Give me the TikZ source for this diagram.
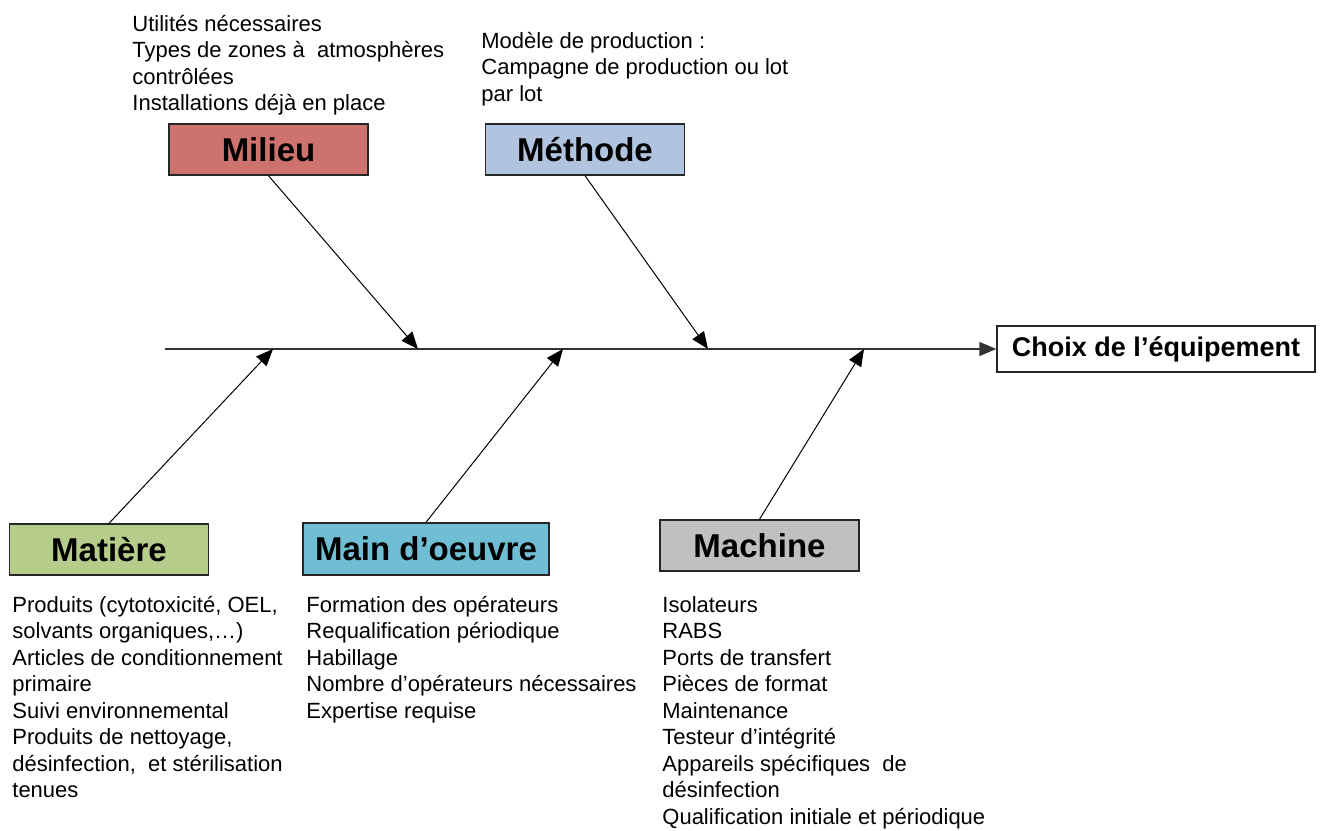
\documentclass[tikz,border=0pt]{standalone}
\usepackage{fontspec}
\setmainfont{Liberation Sans}
\usepackage{xcolor}
\usetikzlibrary{arrows.meta}

\definecolor{milieucol}{RGB}{205,114,108}
\definecolor{methodecol}{RGB}{176,196,224}
\definecolor{matierecol}{RGB}{182,204,138}
\definecolor{maincol}{RGB}{112,190,212}
\definecolor{machinecol}{RGB}{192,192,192}

\begin{document}
\begin{tikzpicture}[x=0.5pt, y=-0.5pt,
		catbox/.style={draw=black!85, line width=0.7pt, inner sep=0pt,
			minimum width=99.5pt, minimum height=25.5pt,
			font=\fontsize{16.5}{18}\selectfont\bfseries},
		itemlist/.style={anchor=base west, inner sep=0pt, align=left,
			font=\fontsize{11}{13.25}\selectfont},
		branch/.style={line width=0.5pt, -{Triangle[length=8.5pt,width=7pt]}}]

			\useasboundingbox (0,0) rectangle (1321,830);

			% effet
			\node[draw=black!85, line width=0.7pt, inner sep=0pt,
				minimum width=159pt, minimum height=23pt,
				font=\fontsize{13.5}{15}\selectfont\bfseries]
				(choix) at (1156,349) {Choix de l’équipement};

			% arete centrale
			\coordinate (queue) at (165,349);
			\draw[line width=0.8pt, black!80, -{Triangle[length=8.5pt,width=7pt]}]
				(queue) -- (choix.west);

			\coordinate (pmilieu) at (418,349);
			\coordinate (pmethode) at (708,349);
			\coordinate (pmatiere) at (273,349);
			\coordinate (pmain) at (563,349);
			\coordinate (pmachine) at (864,349);

			% causes du haut
			\node[catbox, fill=milieucol] (milieu) at (268.5,149.5) {Milieu};
			\node[catbox, fill=methodecol] (methode) at (585,149.5) {Méthode};

			% causes du bas
			\node[catbox, fill=matierecol] (matiere) at (109,549.5) {Matière};
			\node[catbox, fill=maincol, minimum width=123pt, minimum height=26pt]
				(main) at (426,549) {Main d’oeuvre};
			\node[catbox, fill=machinecol] (machine) at (759.5,545.5) {Machine};

			\draw[branch] (milieu.south) -- (pmilieu);
			\draw[branch] (methode.south) -- (pmethode);
			\draw[branch] (matiere.north) -- (pmatiere);
			\draw[branch] (main.north) -- (pmain);
			\draw[branch] (machine.north) -- (pmachine);

			% listes (ancrees sur la derniere ligne)
			\node[itemlist] (lmilieu) at (132,110.5)
				{Utilités nécessaires\\Types de zones à~ atmosphères\\contrôlées\\Installations déjà en place};
			\node[itemlist] (lmethode) at (481,101)
				{Modèle de production :\\Campagne de production ou lot\\par lot};
			\node[itemlist] (lmatiere) at (12,797.5)
				{Produits (cytotoxicité, OEL,\\solvants organiques,…)\\Articles de conditionnement\\primaire\\Suivi environnemental\\Produits de nettoyage,\\désinfection,~ et stérilisation\\tenues};
			\node[itemlist] (lmain) at (306,718)
				{Formation des opérateurs\\Requalification périodique\\Habillage\\Nombre d’opérateurs nécessaires\\Expertise requise};
			\node[itemlist] (lmachine) at (662,824)
				{Isolateurs\\RABS\\Ports de transfert\\Pièces de format\\Maintenance\\Testeur d’intégrité\\Appareils spécifiques~ de\\désinfection\\Qualification initiale et périodique};
		\end{tikzpicture}
\end{document}
